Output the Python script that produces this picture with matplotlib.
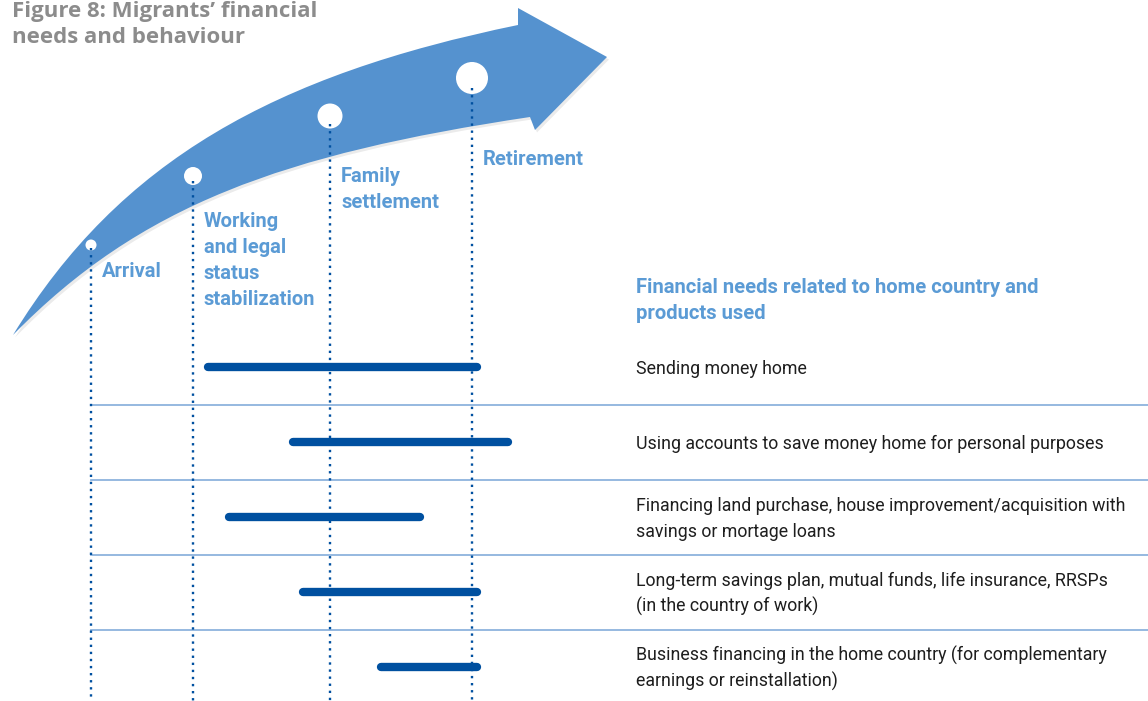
import matplotlib
matplotlib.use("Agg")
import matplotlib.pyplot as plt
from matplotlib.path import Path
from matplotlib.patches import PathPatch, Circle

# ---------------- data ----------------
title_lines = ["Figure 8: Migrants\u2019 financial", "needs and behaviour"]
stage_labels = [["Arrival"],
                ["Working", "and legal", "status", "stabilization"],
                ["Family", "settlement"],
                ["Retirement"]]
header_lines = ["Financial needs related to home country and", "products used"]
need_labels = [["Sending money home"],
               ["Using accounts to save money home for personal purposes"],
               ["Financing land purchase, house improvement/acquisition with",
                "savings or mortage loans"],
               ["Long-term savings plan, mutual funds, life insurance, RRSPs",
                "(in the country of work)"],
               ["Business financing in the home country (for complementary",
                "earnings or reinstallation)"]]
# bar extents along the timeline (same units as the stage positions)
bar_start = [208, 293, 229, 303, 381]
bar_end = [477, 508, 420, 477, 477]

# ---------------- layout / style ----------------
W, H = 1148, 701
stage_x = [91, 193, 330, 472]
stage_circle_y = [245, 176, 116, 78]
stage_circle_r = [5.5, 9, 12.5, 16]
stage_label_base = [277, 227, 182, 165]
row_y0, row_step = 367, 75
text_x = 636

ARROW = "#5592cf"
DARK = "#0050a0"
SEP = "#8db3dd"
LABEL = "#5b9bd5"
GREY = "#8c8c8c"
sans = ["Roboto", "DejaVu Sans"]

fig = plt.figure(figsize=(W / 100, H / 100), dpi=100)
ax = fig.add_axes([0, 0, 1, 1])
ax.set_xlim(0, W)
ax.set_ylim(H, 0)
ax.axis("off")

# ---------------- arrow ----------------
tail = (13, 335)
up_end = (518, 25)
low_end = (530, 117)
verts = [tail, (120, 160), (275, 75), up_end,
         (518, 8), (607, 57), (535, 130), low_end,
         (283, 154), (140, 205), tail, tail]
codes = [Path.MOVETO, Path.CURVE4, Path.CURVE4, Path.CURVE4,
         Path.LINETO, Path.LINETO, Path.LINETO, Path.LINETO,
         Path.CURVE4, Path.CURVE4, Path.CURVE4, Path.CLOSEPOLY]
shadow = [(x + 2, y + 2.5) for x, y in verts]
ax.add_patch(PathPatch(Path(shadow, codes), facecolor="#000000", alpha=0.08,
                       edgecolor="none", zorder=1))
ax.add_patch(PathPatch(Path(verts, codes), facecolor=ARROW, edgecolor="none",
                       zorder=2))

# ---------------- stages ----------------
for i, (sx, cy, r) in enumerate(zip(stage_x, stage_circle_y, stage_circle_r)):
    ax.add_patch(Circle((sx, cy), r, facecolor="white", edgecolor="none", zorder=3))
    ax.plot([sx, sx], [cy + 0.6 * r, H], color=DARK, lw=1.7,
            linestyle=(0, (1, 2.0)), zorder=4)
    for k, line in enumerate(stage_labels[i]):
        ax.text(sx + 11, stage_label_base[i] + 26 * k, line, color=LABEL,
                fontsize=14.5, fontweight="bold", family=sans, va="baseline",
                ha="left", zorder=5)

# ---------------- title ----------------
for k, line in enumerate(title_lines):
    ax.text(12, 17 + 26 * k, line, color=GREY, fontsize=16,
            fontweight="bold",
            family=["Open Sans", "DejaVu Sans"], va="baseline", ha="left")

# ---------------- header ----------------
for k, line in enumerate(header_lines):
    ax.text(text_x, 293 + 26 * k, line, color=LABEL, fontsize=14.6,
            fontweight="bold", family=sans, va="baseline", ha="left")

# ---------------- rows ----------------
n = len(need_labels)
for i in range(n):
    y = row_y0 + i * row_step
    ax.plot([bar_start[i], bar_end[i]], [y, y], color=DARK, lw=6,
            solid_capstyle="round", zorder=5)
    lines = need_labels[i]
    b0 = y + 7 - 13 * (len(lines) - 1)
    for k, line in enumerate(lines):
        ax.text(text_x, b0 + 26 * k, line, color="#1e1e1e", fontsize=12.8,
                family=sans, va="baseline", ha="left")
    if i < n - 1:
        sy = y + row_step / 2
        ax.plot([stage_x[0], W], [sy, sy], color=SEP, lw=1.3, zorder=3)

fig.savefig("out.png", dpi=100)
